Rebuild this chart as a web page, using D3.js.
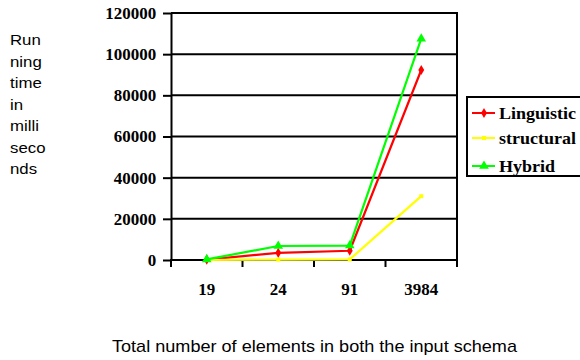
<!DOCTYPE html>
<html>
<head>
<meta charset="utf-8">
<script src="https://cdn.jsdelivr.net/npm/d3@7"></script>
<style>
  html, body { margin: 0; padding: 0; background: #fff; }
  svg { display: block; }
</style>
</head>
<body>
<svg id="chart" width="580" height="360"></svg>
<script>
// Schema sizes (total elements) and running times in milliseconds
const categories = ["19", "24", "91", "3984"];
const linguistic = [200, 3500, 4500, 92300];
const structural = [0, 200, 300, 31000];
const hybrid = [300, 6800, 7000, 107500];
const yTicks = [0, 20000, 40000, 60000, 80000, 100000, 120000];
const seriesNames = ["Linguistic", "structural", "Hybrid"];
const yTitleLines = ["Run", "ning", "time", "in", "milli", "seco", "nds"];
const xTitle = "Total number of elements in both the input schema";

const SERIF = "'Liberation Serif', 'Times New Roman', Times, serif";
const SANS = "'Liberation Sans', Arial, Helvetica, sans-serif";

const series = [
  { name: seriesNames[0], values: linguistic, color: "#ff0000", marker: "diamond" },
  { name: seriesNames[1], values: structural, color: "#ffff00", marker: "square" },
  { name: seriesNames[2], values: hybrid, color: "#00ff00", marker: "triangle" }
];

const svg = d3.select("#chart");
const plot = { left: 171, right: 457, top: 13, bottom: 260 };

const x = d3.scaleBand().domain(categories).range([plot.left, plot.right]);
const y = d3.scaleLinear().domain([0, 120000]).range([plot.bottom, plot.top]);

// Horizontal gridlines
svg.append("g")
  .selectAll("line")
  .data(yTicks)
  .join("line")
  .attr("x1", plot.left).attr("x2", plot.right)
  .attr("y1", d => y(d)).attr("y2", d => y(d))
  .attr("stroke", "#000").attr("stroke-width", 2);

// Right frame edge
svg.append("line")
  .attr("x1", plot.right).attr("x2", plot.right)
  .attr("y1", plot.top - 1).attr("y2", plot.bottom)
  .attr("stroke", "#000").attr("stroke-width", 2);

// Y axis
const yAxis = svg.append("g")
  .attr("transform", `translate(${plot.left},0)`)
  .call(d3.axisLeft(y).tickValues(yTicks).tickFormat(d3.format("d")).tickSize(8).tickSizeOuter(0).tickPadding(6));
yAxis.attr("font-family", SERIF).attr("font-size", 16).attr("font-weight", "bold");
yAxis.select(".domain").attr("stroke", "#000").attr("stroke-width", 2);
yAxis.selectAll(".tick line").attr("stroke", "#000").attr("stroke-width", 2);
yAxis.selectAll(".tick text")
  .attr("fill", "#000")
  .attr("dy", "0.34em")
  .attr("transform", "scale(1.06,1)");

// X axis with ticks at the category boundaries
const xAxis = svg.append("g")
  .attr("transform", `translate(0,${plot.bottom})`)
  .call(d3.axisBottom(x).tickSize(0).tickPadding(24));
xAxis.attr("font-family", SERIF).attr("font-size", 16).attr("font-weight", "bold");
xAxis.select(".domain").remove();
xAxis.selectAll(".tick text").attr("fill", "#000").attr("transform", "scale(1.06,1)");
xAxis.append("line")
  .attr("x1", plot.left - 1).attr("x2", plot.right + 1)
  .attr("stroke", "#000").attr("stroke-width", 2);
const bounds = categories.map(c => x(c)).concat([x(categories[categories.length - 1]) + x.bandwidth()]);
xAxis.selectAll(".bound")
  .data(bounds)
  .join("line")
  .attr("class", "bound")
  .attr("x1", d => d).attr("x2", d => d)
  .attr("y1", 0).attr("y2", 7)
  .attr("stroke", "#000").attr("stroke-width", 2);

// Marker shapes
function markerPath(kind) {
  if (kind === "diamond") return d3.symbol(d3.symbolDiamond, 30)();
  if (kind === "square") return d3.symbol(d3.symbolSquare, 16)();
  return d3.symbol(d3.symbolTriangle, 40)();
}

const line = d3.line()
  .x((d, i) => x(categories[i]) + x.bandwidth() / 2)
  .y(d => y(d));

const seriesG = svg.append("g");
series.forEach(s => {
  const g = seriesG.append("g");
  g.append("path")
    .attr("d", line(s.values))
    .attr("fill", "none")
    .attr("stroke", s.color)
    .attr("stroke-width", 2.2)
    .attr("stroke-linejoin", "round");
  g.selectAll("path.mk")
    .data(s.values)
    .join("path")
    .attr("class", "mk")
    .attr("d", markerPath(s.marker))
    .attr("transform", (d, i) => `translate(${x(categories[i]) + x.bandwidth() / 2},${y(d)})`)
    .attr("fill", s.color);
});

// Legend
const legend = svg.append("g");
legend.append("rect")
  .attr("x", 467).attr("y", 97)
  .attr("width", 120).attr("height", 79)
  .attr("fill", "#fff").attr("stroke", "#000").attr("stroke-width", 2);
const legendRows = [113, 138, 166];
series.forEach((s, i) => {
  const ly = legendRows[i];
  legend.append("line")
    .attr("x1", 472).attr("x2", 495)
    .attr("y1", ly).attr("y2", ly)
    .attr("stroke", s.color).attr("stroke-width", 2);
  legend.append("path")
    .attr("d", markerPath(s.marker))
    .attr("transform", `translate(484,${ly})`)
    .attr("fill", s.color);
  legend.append("text")
    .attr("transform", `translate(499,${ly + 6}) scale(1.03,1)`)
    .attr("font-family", SERIF)
    .attr("font-weight", "bold")
    .attr("font-size", 17.5)
    .attr("fill", "#000")
    .text(s.name);
});

// Y axis title, broken across lines
svg.append("g")
  .selectAll("text")
  .data(yTitleLines)
  .join("text")
  .attr("transform", (d, i) => `translate(10,${45 + i * 21.5}) scale(1.2,1)`)
  .attr("font-family", SANS)
  .attr("font-size", 14)
  .attr("fill", "#000")
  .text(d => d);

// X axis title
svg.append("text")
  .attr("x", 112).attr("y", 352)
  .attr("textLength", 405)
  .attr("lengthAdjust", "spacingAndGlyphs")
  .attr("font-family", SANS)
  .attr("font-size", 17)
  .attr("fill", "#000")
  .text(xTitle);
</script>
</body>
</html>
